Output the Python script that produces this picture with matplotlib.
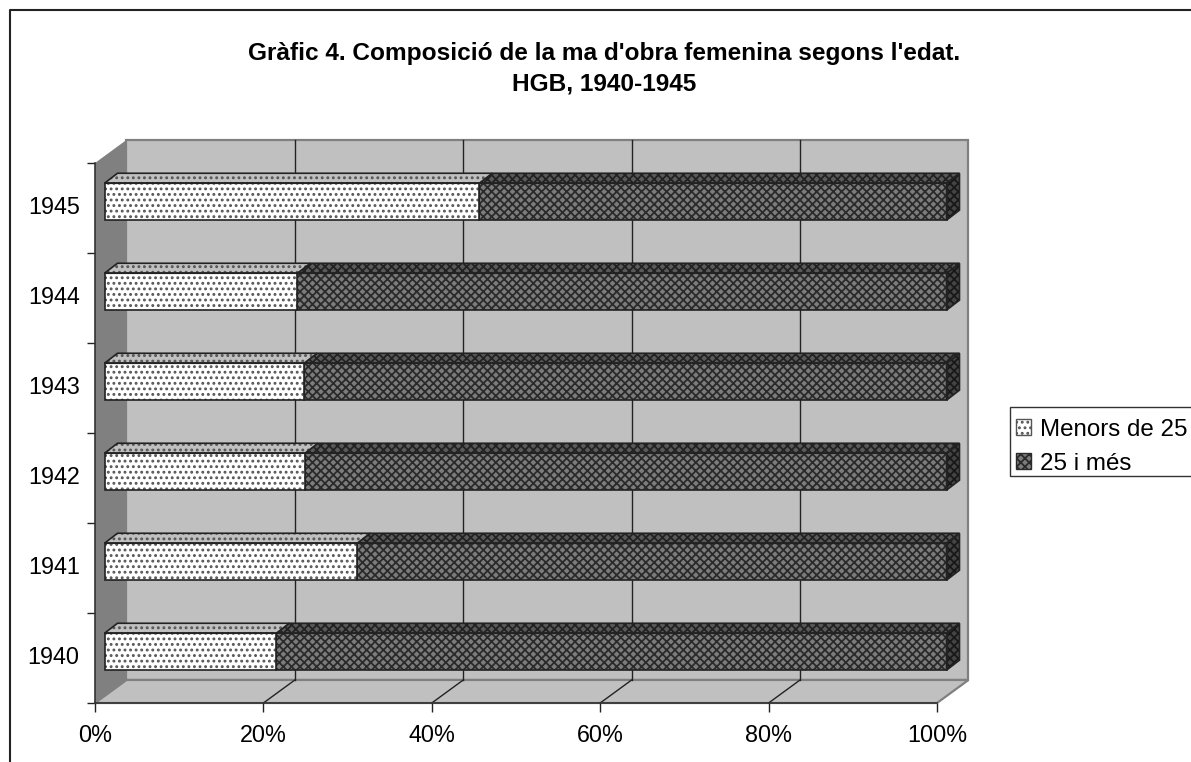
import matplotlib
matplotlib.use('Agg')
import matplotlib.pyplot as plt
from matplotlib.lines import Line2D
from matplotlib.patches import Patch, Polygon, Rectangle
from matplotlib.ticker import PercentFormatter

plt.rcParams['font.family'] = ['Liberation Sans', 'DejaVu Sans']
plt.rcParams['hatch.linewidth'] = 1.3

years = ['1940', '1941', '1942', '1943', '1944', '1945']
menors_25 = [20.4, 30.0, 23.8, 23.7, 22.9, 44.5]
mes_25 = [79.6, 70.0, 76.2, 76.3, 77.1, 55.5]
series_names = ['Menors de 25', '25 i més']
x_ticks = [0, 20, 40, 60, 80, 100]

W, H = 1191, 762
fig = plt.figure(figsize=(W / 100, H / 100), dpi=100, facecolor='white')
ax = fig.add_axes([95 / W, 1 - 703 / H, 842 / W, 540 / H])
ax.set_xlim(0, 100)
ax.set_ylim(-0.5, 5.5)

# fake 3d depth, in data units
wall_dx, wall_dy = 3.74, 0.256
bar_x0, bar_dy0 = 1.13, 0.07
bar_dx, bar_dy = 1.54, 0.111
bar_h = 0.41


def poly(pts, face, edge='none', hatch=None, lw=1.0, z=2):
    ax.add_patch(Polygon(pts, closed=True, facecolor=face, edgecolor=edge, hatch=hatch,
                         lw=lw, zorder=z, clip_on=False))


def box(x0, x1, y0, y1, faces, hatch, z, side=True):
    front, top, right = faces
    ftl = [(x0, y1), (x1, y1), (x1 + bar_dx, y1 + bar_dy), (x0 + bar_dx, y1 + bar_dy)]
    fsd = [(x1, y0), (x1 + bar_dx, y0 + bar_dy), (x1 + bar_dx, y1 + bar_dy), (x1, y1)]
    ffr = [(x0, y0), (x1, y0), (x1, y1), (x0, y1)]
    parts = [(ftl, top), (ffr, front)]
    if side:
        parts.append((fsd, right))
    for pts, col in parts:
        poly(pts, col[0], edge=col[1], hatch=hatch, lw=0, z=z)
        poly(pts, 'none', edge='#222222', lw=1.2, z=z + 0.1)


# walls and floor
y_lo, y_hi = -0.5, 5.5
poly([(wall_dx, y_lo + wall_dy), (100 + wall_dx, y_lo + wall_dy), (100 + wall_dx, y_hi + wall_dy),
      (wall_dx, y_hi + wall_dy)], '#c0c0c0', edge='#808080', lw=1.6, z=1)
poly([(0, y_lo), (100, y_lo), (100 + wall_dx, y_lo + wall_dy), (wall_dx, y_lo + wall_dy)],
     '#c0c0c0', edge='#808080', lw=1.6, z=1)
poly([(0, y_lo), (wall_dx, y_lo + wall_dy), (wall_dx, y_hi + wall_dy), (0, y_hi)], '#808080', z=1.1)

# gridlines
for t in x_ticks[1:-1]:
    ax.plot([t + wall_dx] * 2, [y_lo + wall_dy, y_hi + wall_dy], color='#222222', lw=1, zorder=1.5,
            clip_on=False)
    ax.plot([t, t + wall_dx], [y_lo, y_lo + wall_dy], color='#222222', lw=1, zorder=1.5, clip_on=False)

light = (('white', '#555555'), ('#c0c0c0', '#555555'), ('#c0c0c0', '#555555'))
dark = (('#7c7c7c', '#2a2a2a'), ('#5a5a5a', '#222222'), ('#444444', '#181818'))
for i, (a, b) in enumerate(zip(menors_25, mes_25)):
    y0 = i + bar_dy0 - bar_h / 2
    y1 = y0 + bar_h
    x_mid = bar_x0 + a
    box(x_mid, x_mid + b, y0, y1, dark, 'xxxx', 3)
    box(bar_x0, x_mid, y0, y1, light, '...', 4, side=False)

# axes
for s in ['top', 'right']:
    ax.spines[s].set_visible(False)
for s in ['left', 'bottom']:
    ax.spines[s].set_color('#333333')
    ax.spines[s].set_linewidth(1.2)
    ax.spines[s].set_zorder(6)
ax.patch.set_visible(False)
ax.set_xticks(x_ticks)
ax.xaxis.set_major_formatter(PercentFormatter(100, decimals=0))
ax.set_yticks(range(len(years)))
ax.set_yticklabels(years)
for lab in ax.get_yticklabels():
    lab.set_verticalalignment('center')
ax.set_yticks([i - 0.5 for i in range(len(years) + 1)], minor=True)
ax.tick_params(axis='x', length=6.5, width=1, color='#222222', labelsize=16.8, pad=8.5)
ax.tick_params(axis='y', which='major', length=0, labelsize=16.8, pad=11)
ax.tick_params(axis='y', which='minor', length=6, width=1, color='#222222')

fig.text(604 / W, 1 - 68.5 / H, "Gràfic 4. Composició de la ma d'obra femenina segons l'edat.\nHGB, 1940-1945",
         ha='center', va='center', fontsize=17.6, fontweight='bold', linespacing=1.43)

# outer chart border, cut by the image edge
fig.add_artist(Line2D([9.5 / W, 9.5 / W, 1], [0, 1 - 10 / H, 1 - 10 / H], color='#222222', lw=1.5))

# legend box runs off the right edge, so it is drawn apart from the entries
fig.add_artist(Rectangle((1010 / W, 1 - 476 / H), 190 / W, 69 / H, transform=fig.transFigure,
                         facecolor='white', edgecolor='#333333', lw=1))
handles = [Patch(facecolor='white', edgecolor='#555555', hatch='...'),
           Patch(facecolor='#7c7c7c', edgecolor='#2a2a2a', hatch='xxxx')]
fig.legend(handles, series_names, loc='lower left', bbox_to_anchor=(1011 / W, 1 - 480 / H),
           fontsize=17.4, frameon=False,
           borderaxespad=0, borderpad=0.22, handlelength=0.62, handleheight=0.62,
           handletextpad=0.36, labelspacing=0.5)

fig.savefig('out.png', dpi=100)
